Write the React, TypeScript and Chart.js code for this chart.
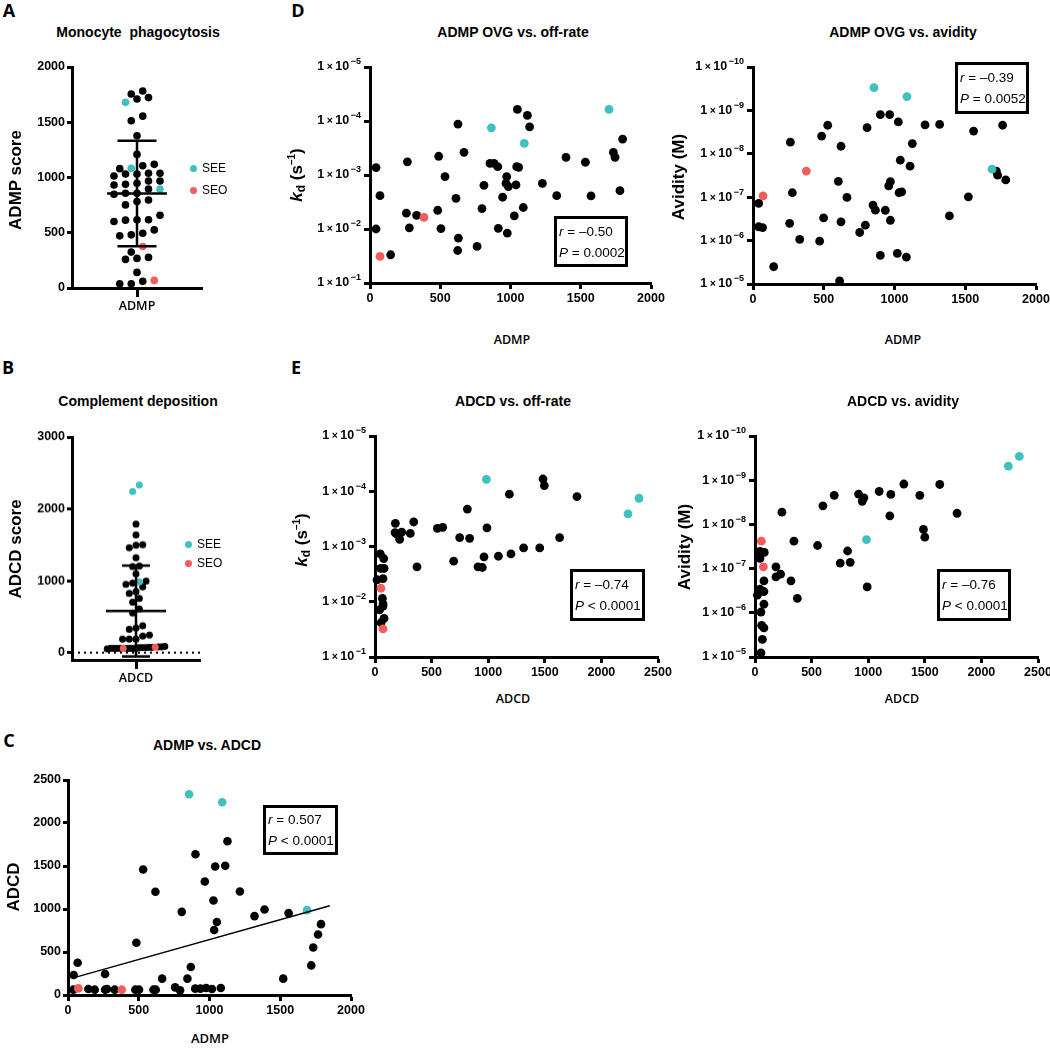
import React, { useEffect, useRef } from "react";
import { Chart, registerables } from "chart.js";

Chart.register(...registerables);

const FONT = "'Liberation Sans', Arial, Helvetica, sans-serif";
const LABEL_FONT = "'Open Sans', 'Liberation Sans', Arial, sans-serif";
const BLACK = "#000000";
const SEE_COLOR = "#3fc1c0";
const SEO_COLOR = "#f25c5a";

// ---------- Panel A: Monocyte phagocytosis (ADMP score) ----------
const A_CATEGORY = "ADMP";
const A_ADMP = [39, 39, 60, 69, 141, 259, 268, 277, 325, 376, 472, 481, 496, 526, 602, 614, 617, 617, 659, 752, 782, 797, 848, 857, 857, 896, 896, 932, 938, 947, 968, 968, 1014, 1032, 1032, 1038, 1038, 1080, 1083, 1107, 1119, 1209, 1377, 1513, 1555, 1681, 1711, 1723, 1756, 1783];
const A_SEE = [26, 38, 45];
const A_SEO = [3, 9];
const A_MEAN = 855;
const A_SD = 477;
const A_TICKS = [0, 500, 1000, 1500, 2000];

// ---------- Panel C: ADMP vs. ADCD (also source of panel B) ----------
const C_ADMP = [856, 1090, 1127, 901, 1040, 1111, 531, 967, 618, 1215, 1028, 804, 1389, 1318, 1559, 1689, 1788, 1052, 1033, 1767, 1733, 483, 1719, 868, 68, 40, 262, 665, 844, 1521, 38, 73, 144, 189, 262, 276, 330, 380, 476, 502, 604, 620, 757, 792, 899, 936, 976, 1017, 1080];
const C_ADCD = [2334, 2241, 1788, 1637, 1494, 1502, 1459, 1320, 1200, 1204, 1099, 967, 995, 917, 952, 987, 824, 848, 755, 704, 553, 608, 344, 325, 375, 232, 244, 190, 190, 190, 62, 77, 70, 62, 62, 70, 62, 62, 62, 62, 62, 62, 89, 54, 74, 74, 81, 70, 81];
const C_SEE = [0, 1, 15];
const C_SEO = [31, 37];
const C_FIT_X = [50, 1850];
const C_FIT_Y = [205, 1037];
const C_X_TICKS = [0, 500, 1000, 1500, 2000];
const C_Y_TICKS = [0, 500, 1000, 1500, 2000, 2500];

// ---------- Panel B: Complement deposition (ADCD score) ----------
const B_CATEGORY = "ADCD";
const B_ADCD = C_ADCD;
const B_SEE = C_SEE;
const B_SEO = C_SEO;
const B_MEAN = 580;
const B_SD = 632;
const B_TICKS = [0, 1000, 2000, 3000];

// ---------- Panel D: ADMP OVG vs. off-rate / avidity ----------
const D1_ADMP = [43, 71, 43, 71, 147, 266, 259, 280, 332, 384, 489, 482, 505, 534, 612, 626, 629, 624, 669, 762, 797, 811, 864, 854, 883, 909, 913, 944, 968, 973, 985, 977, 1039, 1044, 1058, 1027, 1049, 1098, 1091, 1120, 1136, 1227, 1329, 1395, 1533, 1573, 1701, 1732, 1744, 1779, 1798];
const D1_KD = [7.3e-4, 2.41e-3, 1.0e-2, 3.2e-2, 3.0e-2, 5.7e-4, 5.1e-3, 9.5e-3, 5.6e-3, 6.1e-3, 4.5e-4, 4.5e-3, 9.8e-3, 1.07e-3, 2.7e-3, 1.14e-4, 1.48e-2, 2.5e-2, 3.8e-4, 2.1e-2, 4.2e-3, 1.55e-3, 1.34e-4, 6.1e-4, 6.1e-4, 7.0e-4, 9.7e-3, 2.58e-3, 1.43e-3, 1.07e-3, 1.64e-3, 1.19e-2, 1.53e-3, 7.0e-4, 7.2e-4, 5.7e-3, 6.1e-5, 2.6e-4, 4.0e-3, 7.9e-5, 1.28e-4, 1.43e-3, 2.41e-3, 4.7e-4, 5.8e-4, 2.44e-3, 6.1e-5, 3.8e-4, 4.7e-4, 1.95e-3, 2.16e-4];
const D1_SEE = [22, 37, 46];
const D1_SEO = [3, 9];

const D2_ADMP = [40, 71, 40, 68, 146, 264, 259, 278, 330, 377, 471, 485, 499, 528, 603, 622, 622, 612, 664, 754, 794, 806, 848, 865, 855, 900, 900, 935, 966, 959, 971, 971, 1027, 1020, 1032, 1051, 1041, 1110, 1088, 1084, 1126, 1216, 1319, 1388, 1522, 1559, 1689, 1720, 1729, 1764, 1786];
const D2_AVIDITY = [1.39e-7, 9.3e-8, 4.8e-7, 5.0e-7, 4.0e-6, 5.4e-9, 4.0e-7, 7.9e-8, 9.4e-7, 2.5e-8, 1.03e-6, 3.9e-9, 3.0e-7, 2.2e-9, 4.3e-8, 6.7e-9, 3.7e-7, 8.5e-6, 1.01e-7, 6.5e-7, 4.4e-7, 2.5e-9, 1.52e-7, 1.99e-7, 3.0e-10, 1.25e-9, 2.2e-6, 2.0e-7, 1.25e-9, 5.5e-8, 4.4e-8, 3.4e-7, 1.84e-9, 1.97e-6, 7.9e-8, 7.5e-8, 1.4e-8, 1.93e-8, 4.8e-10, 2.4e-6, 5.8e-9, 2.16e-9, 2.1e-9, 2.7e-7, 9.8e-8, 3.0e-9, 2.26e-8, 2.5e-8, 3.1e-8, 2.2e-9, 4.0e-8];
const D2_SEE = [24, 38, 46];
const D2_SEO = [1, 9];

// ---------- Panel E: ADCD vs. off-rate / avidity ----------
const E1_ADCD = [984, 1484, 1496, 1187, 1784, 2332, 2235, 816, 180, 342, 551, 598, 989, 177, 189, 236, 312, 218, 748, 836, 1631, 1313, 1455, 1201, 1090, 963, 695, 371, 910, 948, 47, 77, 50, 80, 18, 71, 53, 65, 71, 41, 71, 80, 53, 71];
const E1_KD = [6.1e-5, 6.0e-5, 7.9e-5, 1.13e-4, 1.25e-4, 1.34e-4, 2.57e-4, 2.1e-4, 3.8e-4, 3.6e-4, 4.7e-4, 4.5e-4, 4.6e-4, 5.6e-4, 5.9e-4, 5.5e-4, 5.8e-4, 7.4e-4, 6.9e-4, 7.1e-4, 6.9e-4, 1.06e-3, 1.06e-3, 1.36e-3, 1.5e-3, 1.54e-3, 1.84e-3, 2.33e-3, 2.33e-3, 2.4e-3, 1.36e-3, 1.65e-3, 2.5e-3, 2.5e-3, 4.0e-3, 3.8e-3, 5.7e-3, 8.7e-3, 1.09e-2, 1.4e-2, 1.2e-2, 2.0e-2, 2.4e-2, 3.1e-2];
const E1_SEE = [0, 5, 6];
const E1_SEO = [36, 43];

const E2_ADCD = [2335, 2238, 1315, 1632, 1097, 700, 915, 1200, 1456, 962, 947, 600, 238, 1785, 1191, 1488, 1500, 985, 344, 553, 818, 753, 841, 185, 185, 226, 318, 374, 991, 56, 74, 44, 82, 44, 79, 44, 21, 79, 79, 53, 59, 79, 65, 53];
const E2_AVIDITY = [2.9e-10, 4.8e-10, 1.22e-9, 1.25e-9, 1.8e-9, 2.2e-9, 2.06e-9, 2.1e-9, 2.2e-9, 2.5e-9, 3.0e-9, 3.8e-9, 5.3e-9, 5.6e-9, 6.4e-9, 1.3e-8, 1.95e-8, 2.2e-8, 2.4e-8, 3.0e-8, 4.0e-8, 7.5e-8, 7.2e-8, 9.1e-8, 1.54e-7, 1.34e-7, 1.9e-7, 4.7e-7, 2.6e-7, 2.4e-8, 9.1e-8, 4.1e-8, 4.3e-8, 5.9e-8, 1.9e-7, 2.9e-7, 4.0e-7, 3.3e-7, 6.4e-7, 9.6e-7, 1.92e-6, 2.2e-6, 4.0e-6, 8.1e-6];
const E2_SEE = [0, 1, 17];
const E2_SEO = [29, 30];

// ---------- shared ticks ----------
const ADMP_TICKS = [0, 500, 1000, 1500, 2000];
const ADCD_TICKS = [0, 500, 1000, 1500, 2000, 2500];
const KD_TICKS = [1e-5, 1e-4, 1e-3, 1e-2, 1e-1];
const AVIDITY_TICKS = [1e-10, 1e-9, 1e-8, 1e-7, 1e-6, 1e-5];

const STATS = {
  C: { r: "0.507", op: "<", p: "0.0001" },
  D1: { r: "–0.50", op: "=", p: "0.0002" },
  D2: { r: "–0.39", op: "=", p: "0.0052" },
  E1: { r: "–0.74", op: "<", p: "0.0001" },
  E2: { r: "–0.76", op: "<", p: "0.0001" },
};

// ---------- helpers ----------
function swarm(values: number[], bin: number, spacing: number, maxHalf: number) {
  const order = values.map((_, i) => i).sort((a, b) => values[a] - values[b]);
  const xs = new Array(values.length).fill(0);
  let row: number[] = [];
  let start = -Infinity;
  const flush = () => {
    const n = row.length;
    const sp = n > 1 ? Math.min(spacing, (2 * maxHalf) / (n - 1)) : 0;
    row.forEach((id, k) => (xs[id] = (k - (n - 1) / 2) * sp));
    row = [];
  };
  for (const i of order) {
    if (values[i] - start > bin) {
      flush();
      start = values[i];
    }
    row.push(i);
  }
  flush();
  return xs;
}

function groupDatasets(xs: number[], ys: number[], see: number[], seo: number[], r: number) {
  const mk = (idx: number[], color: string) => ({
    data: idx.map((i) => ({ x: xs[i], y: ys[i] })),
    backgroundColor: color,
    borderColor: color,
    borderWidth: 0,
    pointRadius: r,
    pointHoverRadius: r,
    clip: false,
    showLine: false,
  });
  const black = xs.map((_, i) => i).filter((i) => !see.includes(i) && !seo.includes(i));
  return [mk(seo, SEO_COLOR), mk(see, SEE_COLOR), mk(black, BLACK)];
}

function lineDataset(xs: number[], ys: number[], width: number, dash: number[] = []) {
  return {
    data: xs.map((x, i) => ({ x, y: ys[i] })),
    showLine: true,
    borderColor: BLACK,
    backgroundColor: BLACK,
    borderWidth: width,
    borderDash: dash,
    pointRadius: 0,
    clip: false,
    tension: 0,
  };
}

function axis(kind: "x" | "y", opts: any) {
  const { min, max, ticks, log, reverse, size, tickLength, label, font } = opts;
  return {
    type: log ? "logarithmic" : "linear",
    min,
    max,
    reverse: !!reverse,
    border: { display: true, color: BLACK, width: 3 },
    grid: { display: true, drawOnChartArea: false, drawTicks: true, tickLength: tickLength ?? 5, tickWidth: 3, tickColor: BLACK },
    ticks: {
      color: BLACK,
      font: font || { family: FONT, size: 12.5, weight: "bold" },
      padding: 2,
      maxRotation: 0,
      autoSkip: false,
      // log-axis labels (1 × 10^n) are drawn by the sciTickPlugin with real superscripts
      callback: (v: number) => (label ? label : log ? "" : String(v)),
    },
    afterBuildTicks: (s: any) => {
      s.ticks = ticks.map((v: number) => ({ value: v }));
    },
    afterFit: (s: any) => {
      if (kind === "y") s.width = size;
      else s.height = size;
    },
  };
}

const sciTickPlugin = {
  id: "sciTicks",
  afterDraw(chart: any) {
    const s = chart.scales.y;
    if (!s || s.type !== "logarithmic") return;
    const ctx = chart.ctx;
    const tl = s.options.grid.tickLength || 5;
    ctx.save();
    ctx.fillStyle = BLACK;
    ctx.textBaseline = "middle";
    ctx.textAlign = "right";
    for (const t of s.ticks) {
      const y = s.getPixelForValue(t.value);
      const e = Math.round(Math.log10(t.value));
      const exp = (e < 0 ? "−" : "") + Math.abs(e);
      const xr = chart.chartArea.left - tl - 3;
      ctx.font = `bold 9px ${FONT}`;
      const ew = ctx.measureText(exp).width;
      ctx.fillText(exp, xr, y - 5);
      ctx.font = `bold 12.5px ${FONT}`;
      const w10 = ctx.measureText("10").width;
      ctx.fillText("10", xr - ew - 1.5, y);
      ctx.font = `bold 10.5px ${FONT}`;
      const wx = ctx.measureText("×").width;
      ctx.fillText("×", xr - ew - 1.5 - w10 - 2.5, y + 0.5);
      ctx.font = `bold 12.5px ${FONT}`;
      ctx.fillText("1", xr - ew - 1.5 - w10 - 2.5 - wx - 2.5, y);
    }
    ctx.restore();
  },
};

type Plot = { l: number; t: number; r: number; b: number };
const PAD_TOP = 14;
const PAD_RIGHT = 18;

function ChartPanel({ plot, yW, xH, datasets, x, y }: { plot: Plot; yW: number; xH: number; datasets: any[]; x: any; y: any }) {
  const ref = useRef<HTMLCanvasElement>(null);
  const w = plot.r - plot.l + yW + PAD_RIGHT;
  const h = plot.b - plot.t + PAD_TOP + xH;
  useEffect(() => {
    const chart = new Chart(ref.current as HTMLCanvasElement, {
      type: "scatter",
      data: { datasets },
      options: {
        responsive: false,
        animation: false,
        devicePixelRatio: 1,
        events: [],
        layout: { padding: { top: PAD_TOP, right: PAD_RIGHT, left: 0, bottom: 0 } },
        plugins: { legend: { display: false }, tooltip: { enabled: false }, title: { display: false } },
        scales: { x, y },
      },
      plugins: [sciTickPlugin],
    } as any);
    return () => chart.destroy();
  }, []);
  return (
    <canvas
      ref={ref}
      width={w}
      height={h}
      style={{ position: "absolute", left: plot.l - yW, top: plot.t - PAD_TOP, width: w, height: h }}
    />
  );
}

function Txt({ x, y, children, size = 14, weight = 700, family = FONT, rotate = false }: any) {
  return (
    <div
      style={{
        position: "absolute",
        left: x,
        top: y,
        transform: `translate(-50%, -50%)${rotate ? " rotate(-90deg)" : ""}`,
        whiteSpace: "nowrap",
        fontFamily: family,
        fontSize: size,
        fontWeight: weight,
        color: BLACK,
        lineHeight: 1,
      }}
    >
      {children}
    </div>
  );
}

function StatBox({ l, t, w, h, s }: any) {
  return (
    <div
      style={{
        position: "absolute",
        left: l,
        top: t,
        width: w,
        height: h,
        boxSizing: "border-box",
        border: "3px solid #000",
        fontFamily: FONT,
        fontSize: 13.5,
        color: BLACK,
        paddingLeft: 2,
        display: "flex",
        flexDirection: "column",
        justifyContent: "center",
        lineHeight: "21px",
        whiteSpace: "nowrap",
      }}
    >
      <div><i>r</i> = {s.r}</div>
      <div><i>P</i> {s.op} {s.p}</div>
    </div>
  );
}

function Legend({ x, y, gap }: { x: number; y: number; gap: number }) {
  const item = (color: string, text: string, yy: number) => (
    <div style={{ position: "absolute", left: x, top: yy - 7, display: "flex", alignItems: "center", fontFamily: FONT, fontSize: 12, height: 14 }}>
      <span style={{ display: "inline-block", width: 7, height: 7, borderRadius: "50%", background: color, marginRight: 5 }} />
      <span>{text}</span>
    </div>
  );
  return (
    <>
      {item(SEE_COLOR, "SEE", y)}
      {item(SEO_COLOR, "SEO", y + gap)}
    </>
  );
}

const KdTitle = () => (
  <span>
    <i>k</i>
    <sub style={{ fontSize: 12, verticalAlign: "-3px" }}>d</sub>
    {"  "}(s<sup style={{ fontSize: 10, verticalAlign: "7px" }}>–1</sup>)
  </span>
);

export default function App() {
  const aX = swarm(A_ADMP, 63, 0.177, 0.5);
  const aDatasets = [
    lineDataset([-0.46, 0.46], [A_MEAN, A_MEAN], 2.5),
    lineDataset([-0.3, 0.3], [A_MEAN + A_SD, A_MEAN + A_SD], 2.5),
    lineDataset([-0.3, 0.3], [A_MEAN - A_SD, A_MEAN - A_SD], 2.5),
    lineDataset([0, 0], [A_MEAN - A_SD, A_MEAN + A_SD], 2.5),
    ...groupDatasets(aX, A_ADMP, A_SEE, A_SEO, 3.8),
  ];

  const bX = swarm(B_ADCD, 100, 0.105, 0.45);
  const bDatasets = [
    lineDataset([-0.47, 0.47], [B_MEAN, B_MEAN], 2.5),
    lineDataset([-0.22, 0.22], [B_MEAN + B_SD, B_MEAN + B_SD], 2.5),
    lineDataset([-0.22, 0.22], [B_MEAN - B_SD, B_MEAN - B_SD], 2.5),
    lineDataset([0, 0], [B_MEAN - B_SD, B_MEAN + B_SD], 2.5),
    ...groupDatasets(bX, B_ADCD, B_SEE, B_SEO, 3.5),
    lineDataset([-1, 1], [0, 0], 2, [2, 4]),
  ];

  const cDatasets = [lineDataset(C_FIT_X, C_FIT_Y, 1.5), ...groupDatasets(C_ADMP, C_ADCD, C_SEE, C_SEO, 4.3)];

  const catFont = { family: LABEL_FONT, size: 12.5, weight: "600" };

  return (
    <div style={{ position: "absolute", left: 0, top: 0, width: 1050, height: 1050, background: "#fff", overflow: "hidden" }}>
      <ChartPanel
        plot={{ l: 72, t: 67, r: 202, b: 288 }}
        yW={60}
        xH={30}
        datasets={aDatasets}
        x={axis("x", { min: -1, max: 1, ticks: [0], size: 30, tickLength: 9, label: A_CATEGORY, font: catFont })}
        y={axis("y", { min: 0, max: 2000, ticks: A_TICKS, size: 60 })}
      />
      <ChartPanel
        plot={{ l: 72, t: 437, r: 200, b: 659.5 }}
        yW={60}
        xH={30}
        datasets={bDatasets}
        x={axis("x", { min: -1, max: 1, ticks: [0], size: 30, tickLength: 9, label: B_CATEGORY, font: catFont })}
        y={axis("y", { min: -100, max: 3000, ticks: B_TICKS, size: 60 })}
      />
      <ChartPanel
        plot={{ l: 68, t: 780, r: 351, b: 995 }}
        yW={60}
        xH={30}
        datasets={cDatasets}
        x={axis("x", { min: 0, max: 2000, ticks: C_X_TICKS, size: 30, tickLength: 6 })}
        y={axis("y", { min: 0, max: 2500, ticks: C_Y_TICKS, size: 60 })}
      />
      <ChartPanel
        plot={{ l: 370, t: 67, r: 651, b: 283 }}
        yW={80}
        xH={30}
        datasets={groupDatasets(D1_ADMP, D1_KD, D1_SEE, D1_SEO, 4.4)}
        x={axis("x", { min: 0, max: 2000, ticks: ADMP_TICKS, size: 30, tickLength: 6 })}
        y={axis("y", { min: 1e-5, max: 1e-1, ticks: KD_TICKS, log: true, reverse: true, size: 80, tickLength: 6 })}
      />
      <ChartPanel
        plot={{ l: 753, t: 67, r: 1036, b: 284 }}
        yW={80}
        xH={30}
        datasets={groupDatasets(D2_ADMP, D2_AVIDITY, D2_SEE, D2_SEO, 4.4)}
        x={axis("x", { min: 0, max: 2000, ticks: ADMP_TICKS, size: 30, tickLength: 6 })}
        y={axis("y", { min: 1e-10, max: 1e-5, ticks: AVIDITY_TICKS, log: true, reverse: true, size: 80, tickLength: 6 })}
      />
      <ChartPanel
        plot={{ l: 375, t: 436, r: 658, b: 657 }}
        yW={80}
        xH={30}
        datasets={groupDatasets(E1_ADCD, E1_KD, E1_SEE, E1_SEO, 4.4)}
        x={axis("x", { min: 0, max: 2500, ticks: ADCD_TICKS, size: 30, tickLength: 6 })}
        y={axis("y", { min: 1e-5, max: 1e-1, ticks: KD_TICKS, log: true, reverse: true, size: 80, tickLength: 6 })}
      />
      <ChartPanel
        plot={{ l: 755, t: 436, r: 1038, b: 657 }}
        yW={80}
        xH={30}
        datasets={groupDatasets(E2_ADCD, E2_AVIDITY, E2_SEE, E2_SEO, 4.4)}
        x={axis("x", { min: 0, max: 2500, ticks: ADCD_TICKS, size: 30, tickLength: 6 })}
        y={axis("y", { min: 1e-10, max: 1e-5, ticks: AVIDITY_TICKS, log: true, reverse: true, size: 80, tickLength: 6 })}
      />

      <Txt x={9} y={10} size={18} family={LABEL_FONT}>A</Txt>
      <Txt x={8} y={367} size={18} family={LABEL_FONT}>B</Txt>
      <Txt x={9} y={740} size={18} family={LABEL_FONT}>C</Txt>
      <Txt x={298} y={10} size={18} family={LABEL_FONT}>D</Txt>
      <Txt x={296} y={367} size={18} family={LABEL_FONT}>E</Txt>

      <Txt x={138} y={32} size={14}>Monocyte&nbsp;&nbsp;phagocytosis</Txt>
      <Txt x={138} y={401} size={14}>Complement deposition</Txt>
      <Txt x={207} y={745} size={14}>ADMP vs. ADCD</Txt>
      <Txt x={513} y={32} size={14}>ADMP OVG vs. off-rate</Txt>
      <Txt x={903} y={32} size={14}>ADMP OVG vs. avidity</Txt>
      <Txt x={513} y={401} size={14}>ADCD vs. off-rate</Txt>
      <Txt x={903} y={401} size={14}>ADCD vs. avidity</Txt>

      <Txt x={15} y={180} size={17} rotate>ADMP score</Txt>
      <Txt x={15} y={549} size={17} rotate>ADCD score</Txt>
      <Txt x={13} y={887} size={17} rotate>ADCD</Txt>
      <Txt x={297} y={175} size={17} rotate><KdTitle /></Txt>
      <Txt x={678} y={177} size={17} rotate>Avidity (M)</Txt>
      <Txt x={302} y={540} size={17} rotate><KdTitle /></Txt>
      <Txt x={684} y={547} size={17} rotate>Avidity (M)</Txt>

      <Txt x={210} y={1038} size={13} weight={600} family={LABEL_FONT}>ADMP</Txt>
      <Txt x={512} y={340} size={12.5} weight={600} family={LABEL_FONT}>ADMP</Txt>
      <Txt x={903} y={340} size={12.5} weight={600} family={LABEL_FONT}>ADMP</Txt>
      <Txt x={513} y={699} size={12.5} weight={600} family={LABEL_FONT}>ADCD</Txt>
      <Txt x={902} y={699} size={12.5} weight={600} family={LABEL_FONT}>ADCD</Txt>

      <Legend x={190} y={168} gap={22} />
      <Legend x={185} y={544} gap={19} />

      <StatBox l={263} t={805} w={75} h={50} s={STATS.C} />
      <StatBox l={554} t={216} w={74} h={51} s={STATS.D1} />
      <StatBox l={955} t={62} w={74} h={52} s={STATS.D2} />
      <StatBox l={570} t={569} w={75} h={52} s={STATS.E1} />
      <StatBox l={937} t={569} w={74} h={52} s={STATS.E2} />
    </div>
  );
}
